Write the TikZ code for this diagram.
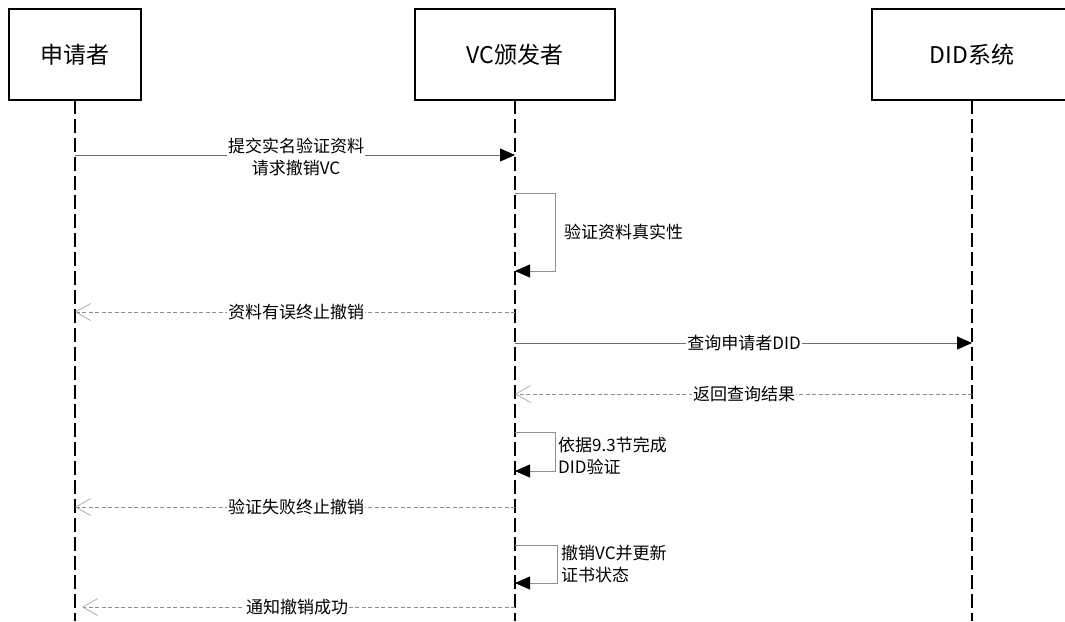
\documentclass[tikz,border=0pt]{standalone}
\usepackage{fontspec}
\setmainfont{Noto Sans CJK SC}
\usetikzlibrary{arrows.meta}
\newlength{\du}
\setlength{\du}{1pt}
\definecolor{msgline}{rgb}{0.420000, 0.420000, 0.420000}
\definecolor{replyline}{rgb}{0.560000, 0.560000, 0.560000}
\definecolor{replyhead}{rgb}{0.650000, 0.650000, 0.650000}
\tikzset{
  actor/.style={draw=black, line width=1.3\du, fill=white, inner sep=0pt,
    minimum height=91\du, font=\fontsize{23}{28}\selectfont},
  lifeline/.style={draw=black, line width=1.5\du, dash pattern=on 14\du off 5\du},
  callmsg/.style={draw=msgline, line width=0.9\du,
    -{Triangle[length=15pt,width=13pt,color=black]}},
  selfmsg/.style={draw=replyline, line width=0.9\du,
    -{Triangle[length=15pt,width=13pt,color=black]}},
  replymsg/.style={draw=replyline, line width=0.8\du, dash pattern=on 4\du off 2.5\du,
    -{Straight Barb[length=15pt,width=17pt,line width=0.7pt,color=replyhead]}},
  msglabel/.style={fill=white, inner sep=1\du, font=\fontsize{17}{22}\selectfont, align=center},
  notelabel/.style={fill=white, inner sep=1\du, anchor=west, font=\fontsize{17}{22}\selectfont, align=left}
}
\begin{document}
\begin{tikzpicture}
\pgftransformxscale{1.000000}
\pgftransformyscale{-1.000000}
\useasboundingbox (0\du,0\du) rectangle (1065\du,621\du);
% lifelines
\draw[lifeline] (75\du,100\du) -- (75\du,621\du);
\draw[lifeline] (515\du,100\du) -- (515\du,621\du);
\draw[lifeline] (972\du,100\du) -- (972\du,621\du);
% actors
\node[actor, minimum width=132\du] (applicant) at (75\du,54.5\du) {申请者};
\node[actor, minimum width=200\du] (issuer) at (515\du,54.5\du) {VC颁发者};
\node[actor, minimum width=200\du] (didsys) at (972\du,54.5\du) {DID系统};
% message points
\coordinate (a1) at (75\du,155\du);
\coordinate (i1) at (515\du,155\du);
\coordinate (i2) at (515\du,193\du);
\coordinate (i3) at (515\du,271\du);
\coordinate (i4) at (515\du,312\du);
\coordinate (a4) at (75\du,312\du);
\coordinate (i5) at (515\du,343\du);
\coordinate (d5) at (972\du,343\du);
\coordinate (d6) at (972\du,394\du);
\coordinate (i6) at (515\du,394\du);
\coordinate (i7) at (515\du,432\du);
\coordinate (i8) at (515\du,471\du);
\coordinate (i9) at (515\du,507\du);
\coordinate (a9) at (75\du,507\du);
\coordinate (i10) at (515\du,545\du);
\coordinate (i11) at (515\du,583\du);
\coordinate (i12) at (515\du,607\du);
\coordinate (a12) at (82\du,607\du);
% messages
\draw[callmsg] (a1) -- (i1);
\draw[selfmsg] (i2) -- ++(40\du,0\du) |- (i3);
\draw[replymsg] (i4) -- (a4);
\draw[callmsg] (i5) -- (d5);
\draw[replymsg] (d6) -- (i6);
\draw[selfmsg] (i7) -- ++(40\du,0\du) |- (i8);
\draw[replymsg] (i9) -- (a9);
\draw[selfmsg] (i10) -- ++(42\du,0\du) |- (i11);
\draw[replymsg] (i12) -- (a12);
% labels
\node[msglabel] (submit) at (296\du,157\du) {提交实名验证资料\\请求撤销VC};
\node[notelabel] (check) at (563\du,232\du) {验证资料真实性};
\node[msglabel] (wrong) at (296\du,312\du) {资料有误终止撤销};
\node[msglabel] (query) at (744\du,343\du) {查询申请者DID};
\node[msglabel] (result) at (744\du,394\du) {返回查询结果};
\node[notelabel] (verify) at (557\du,456\du) {依据9.3节完成\\DID验证};
\node[msglabel] (failed) at (296\du,507\du) {验证失败终止撤销};
\node[notelabel] (revoke) at (560\du,564\du) {撤销VC并更新\\证书状态};
\node[msglabel] (done) at (297\du,607\du) {通知撤销成功};
\end{tikzpicture}
\end{document}
